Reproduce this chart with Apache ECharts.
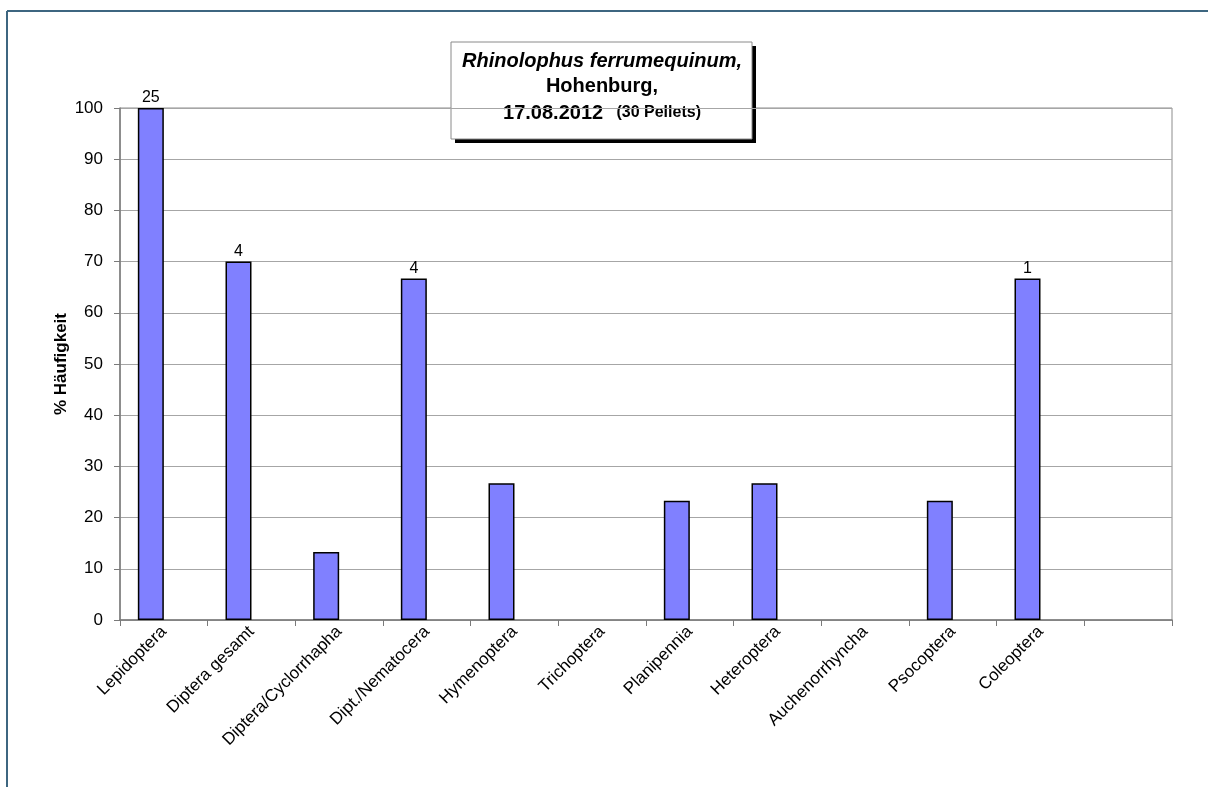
<!DOCTYPE html>
<html>
<head>
<meta charset="utf-8">
<title>Rhinolophus ferrumequinum, Hohenburg</title>
<script src="https://cdn.jsdelivr.net/npm/echarts@6/dist/echarts.min.js"></script>
<style>
  html, body { margin: 0; padding: 0; background: #ffffff; }
  #chart { width: 1208px; height: 787px; }
</style>
</head>
<body>
<div id="chart"></div>
<script>
// Prey categories found in the pellets (last slot is an empty category)
const categories = [
  'Lepidoptera', 'Diptera gesamt', 'Diptera/Cyclorrhapha', 'Dipt./Nematocera',
  'Hymenoptera', 'Trichoptera', 'Planipennia', 'Heteroptera',
  'Auchenorrhyncha', 'Psocoptera', 'Coleoptera', ''
];

// Frequency in percent of pellets
const frequency = [100, 70, 13.3, 66.7, 26.7, 0, 23.3, 26.7, 0, 23.3, 66.7, null];

// Counts written above some of the bars
const counts = [25, 4, null, 4, null, null, null, null, null, null, 1, null];

// Value axis ticks
const yMin = 0;
const yMax = 100;
const yStep = 10;

const FONT = '"Liberation Sans", Arial, sans-serif';

// zero-height bars get no outline so nothing is drawn on the axis
const barData = frequency.map(function (v) {
  return v === 0 ? { value: v, itemStyle: { borderWidth: 0 } } : v;
});

const chart = echarts.init(document.getElementById('chart'));

chart.setOption({
  backgroundColor: '#ffffff',
  animation: false,
  grid: {
    left: 120, right: 36, top: 108, bottom: 167,
    show: true, borderColor: '#8c8c8c', borderWidth: 1,
    backgroundColor: 'transparent'
  },
  xAxis: {
    type: 'category',
    data: categories,
    boundaryGap: true,
    axisLine: { lineStyle: { color: '#7a7a7a', width: 1.5 } },
    axisTick: { show: true, interval: 0, length: 6, lineStyle: { color: '#7a7a7a', width: 1 } },
    axisLabel: {
      interval: 0, rotate: 45, margin: 9,
      color: '#000', fontSize: 17, fontFamily: FONT
    },
    splitLine: { show: false }
  },
  yAxis: {
    type: 'value',
    min: yMin, max: yMax, interval: yStep,
    name: '% Häufigkeit',
    nameLocation: 'middle',
    nameGap: 50,
    nameMoveOverlap: false,
    nameRotate: 90,
    nameTextStyle: { color: '#000', fontSize: 17, fontWeight: 'bold', fontFamily: FONT },
    axisLine: { show: true, lineStyle: { color: '#7a7a7a', width: 1.5 } },
    axisTick: { show: true, length: 6, lineStyle: { color: '#7a7a7a' } },
    axisLabel: { color: '#000', fontSize: 17, fontFamily: FONT, margin: 17 },
    splitLine: { show: true, lineStyle: { color: '#a6a6a6', width: 1 } }
  },
  series: [
    {
      type: 'bar',
      name: 'Häufigkeit',
      data: barData,
      barWidth: 26,
      barGap: '0%',
      itemStyle: { color: '#8080ff', borderColor: '#000000', borderWidth: 1.5 },
      label: {
        show: true,
        position: 'top',
        distance: 2,
        color: '#000',
        fontSize: 16,
        fontFamily: FONT,
        formatter: function (p) {
          const c = counts[p.dataIndex];
          return c == null ? '' : String(c);
        }
      }
    },
    {
      // empty companion series: keeps each bar in the left half of its category
      type: 'bar',
      name: 'leer',
      data: categories.map(function () { return null; }),
      barWidth: 26,
      barGap: '0%'
    }
  ],
  graphic: [
    // frame lines along the top and left edge
    {
      type: 'line', silent: true, z: 100,
      shape: { x1: 7, y1: 11, x2: 1208, y2: 11 },
      style: { stroke: '#3d6680', lineWidth: 2 }
    },
    {
      type: 'line', silent: true, z: 100,
      shape: { x1: 7, y1: 11, x2: 7, y2: 787 },
      style: { stroke: '#3d6680', lineWidth: 2 }
    },
    // title box with drop shadow
    {
      type: 'group', z: 110,
      children: [
        {
          type: 'rect',
          shape: { x: 455, y: 46, width: 301, height: 97 },
          style: { fill: '#000000' }
        },
        {
          type: 'rect',
          shape: { x: 451, y: 42, width: 301, height: 97 },
          style: { fill: '#ffffff', stroke: '#8a8a8a', lineWidth: 1 }
        },
        {
          type: 'text',
          style: {
            x: 602, y: 61, text: 'Rhinolophus ferrumequinum,',
            align: 'center', verticalAlign: 'middle',
            font: 'italic bold 20px ' + FONT, fill: '#000'
          }
        },
        {
          type: 'text',
          style: {
            x: 602, y: 86, text: 'Hohenburg,',
            align: 'center', verticalAlign: 'middle',
            font: 'bold 20px ' + FONT, fill: '#000'
          }
        },
        {
          type: 'text',
          style: {
            x: 602, y: 113,
            text: '{a|17.08.2012}{b|   (30 Pellets)}',
            align: 'center', verticalAlign: 'middle',
            rich: {
              a: { font: 'bold 20px ' + FONT, fill: '#000' },
              b: { font: 'bold 16px ' + FONT, fill: '#000' }
            }
          }
        }
      ]
    }
  ]
});
</script>
</body>
</html>
